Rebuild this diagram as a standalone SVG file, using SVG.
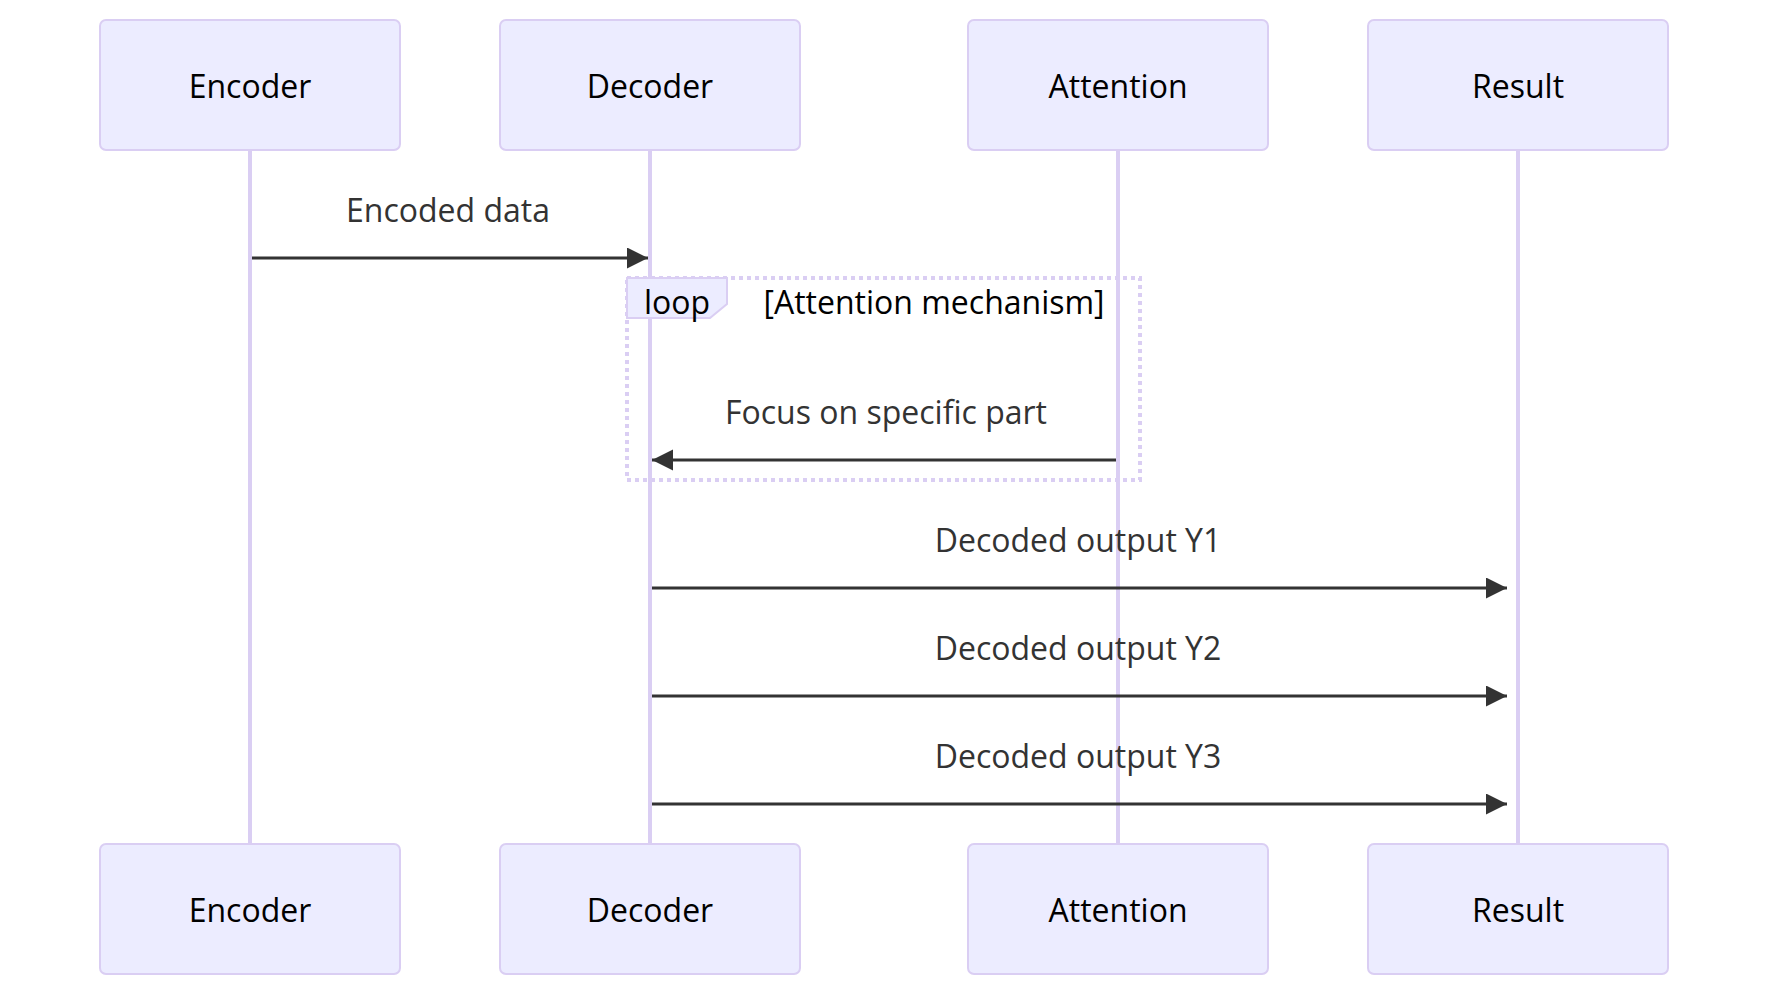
<svg xmlns="http://www.w3.org/2000/svg" width="1768" height="996" viewBox="0 0 1768 996">
<style>
.actor{fill:#ECECFF;stroke:#DACEF3;stroke-width:2}
.actor-text{font-family:"Open Sans","Noto Sans",sans-serif;font-size:32px;fill:#000;text-anchor:middle}
.lifeline{stroke:#DACEF3;stroke-width:4}
.msg{stroke:#333;stroke-width:3;fill:none}
.msg-text{font-family:"Open Sans","Noto Sans",sans-serif;font-size:32px;fill:#333;text-anchor:middle}
.loop-line{fill:none;stroke:#DACEF3;stroke-width:4;stroke-dasharray:4 4}
.label-box{fill:#ECECFF;stroke:#DACEF3;stroke-width:2}
.loop-text{font-family:"Open Sans","Noto Sans",sans-serif;font-size:32px;fill:#000;text-anchor:middle}
</style>
<defs>
<marker id="arrow" markerUnits="userSpaceOnUse" markerWidth="22" markerHeight="22" refX="21" refY="10.5" orient="auto">
<path d="M0,0 L21,10.5 L0,21 z" fill="#333"/>
</marker>
</defs>
<rect width="1768" height="996" fill="#fff"/>
<g id="lifelines">
<line class="lifeline" x1="250" y1="150" x2="250" y2="844"/>
<line class="lifeline" x1="650" y1="150" x2="650" y2="844"/>
<line class="lifeline" x1="1118" y1="150" x2="1118" y2="844"/>
<line class="lifeline" x1="1518" y1="150" x2="1518" y2="844"/>
</g>
<g id="loop">
<rect class="loop-line" x="627" y="278" width="513" height="202"/>
<polygon class="label-box" points="627,278 727,278 727,304 710,318 627,318"/>
<text class="loop-text" x="677" y="314">loop</text>
<text class="loop-text" x="934" y="314">[Attention mechanism]</text>
</g>
<g id="actor-encoder-top"><rect class="actor" x="100" y="20" width="300" height="130" rx="6"/><text class="actor-text" x="250" y="98">Encoder</text></g>
<g id="actor-decoder-top"><rect class="actor" x="500" y="20" width="300" height="130" rx="6"/><text class="actor-text" x="650" y="98">Decoder</text></g>
<g id="actor-attention-top"><rect class="actor" x="968" y="20" width="300" height="130" rx="6"/><text class="actor-text" x="1118" y="98">Attention</text></g>
<g id="actor-result-top"><rect class="actor" x="1368" y="20" width="300" height="130" rx="6"/><text class="actor-text" x="1518" y="98">Result</text></g>
<g id="actor-encoder-bottom"><rect class="actor" x="100" y="844" width="300" height="130" rx="6"/><text class="actor-text" x="250" y="922">Encoder</text></g>
<g id="actor-decoder-bottom"><rect class="actor" x="500" y="844" width="300" height="130" rx="6"/><text class="actor-text" x="650" y="922">Decoder</text></g>
<g id="actor-attention-bottom"><rect class="actor" x="968" y="844" width="300" height="130" rx="6"/><text class="actor-text" x="1118" y="922">Attention</text></g>
<g id="actor-result-bottom"><rect class="actor" x="1368" y="844" width="300" height="130" rx="6"/><text class="actor-text" x="1518" y="922">Result</text></g>
<g id="connectors">
<line class="msg" x1="252" y1="258" x2="648" y2="258" marker-end="url(#arrow)"/>
<text class="msg-text" x="448" y="222">Encoded data</text>
<line class="msg" x1="1116" y1="460" x2="652" y2="460" marker-end="url(#arrow)"/>
<text class="msg-text" x="886" y="424">Focus on specific part</text>
<line class="msg" x1="652" y1="588" x2="1507" y2="588" marker-end="url(#arrow)"/>
<text class="msg-text" x="1078" y="552">Decoded output Y1</text>
<line class="msg" x1="652" y1="696" x2="1507" y2="696" marker-end="url(#arrow)"/>
<text class="msg-text" x="1078" y="660">Decoded output Y2</text>
<line class="msg" x1="652" y1="804" x2="1507" y2="804" marker-end="url(#arrow)"/>
<text class="msg-text" x="1078" y="768">Decoded output Y3</text>
</g>
</svg>
